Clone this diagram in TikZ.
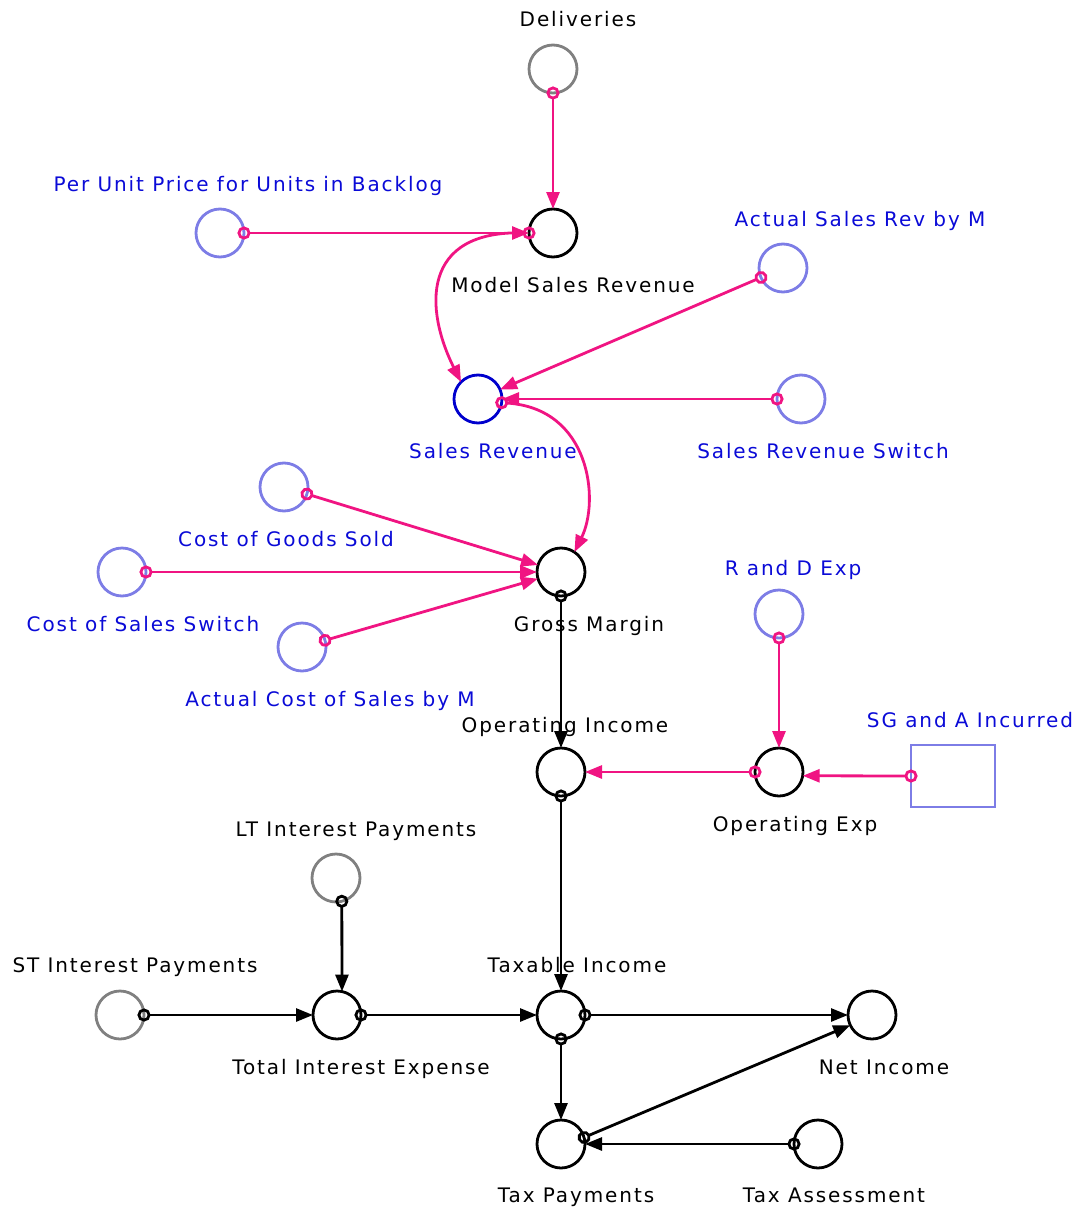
\documentclass[tikz,border=0pt]{standalone}
\usepackage{fontspec}
\setmainfont{DejaVu Sans}[LetterSpace=9.5]
\usetikzlibrary{arrows.meta}
\definecolor{pinkc}{RGB}{240,20,130}
\definecolor{lavc}{RGB}{125,125,230}
\definecolor{grayc}{RGB}{128,128,128}
\definecolor{bluec}{RGB}{0,0,205}
\definecolor{btext}{RGB}{10,10,215}
\begin{document}
\begin{tikzpicture}[x=1pt,y=-1pt,
  var/.style={circle, draw, line width=2.8pt, minimum size=48pt, inner sep=0pt, outer sep=0pt},
  stockbox/.style={rectangle, draw=lavc, line width=2.8pt, minimum width=84pt, minimum height=62pt, inner sep=0pt, outer sep=0pt},
  lab/.style={anchor=base, inner sep=0pt, font=\fontsize{20}{22}\selectfont},
  blab/.style={lab, text=btext},
  link/.style={line width=2.8pt, {Circle[open,length=13pt,width=13pt]}-{Triangle[length=17pt,width=13pt]}, shorten <=-6.5pt},
  plink/.style={link, draw=pinkc},
  klink/.style={link, draw=black}]
\useasboundingbox (0,0) rectangle (1078,1207);

% variables
\node[var, draw=grayc] (del) at (553,69) {};
\node[var] (msr) at (553,233) {};
\node[var, draw=lavc] (pup) at (220,233) {};
\node[var, draw=lavc] (asr) at (783,268) {};
\node[var, draw=bluec] (sr) at (478,399) {};
\node[var, draw=lavc] (srs) at (801,399) {};
\node[var, draw=lavc] (cogs) at (284,487) {};
\node[var] (gm) at (561,572) {};
\node[var, draw=lavc] (css) at (122,572) {};
\node[var, draw=lavc] (acs) at (302,647) {};
\node[var, draw=lavc] (rd) at (779,614) {};
\node[var] (oi) at (561,772) {};
\node[var] (oe) at (779,772) {};
\node[stockbox] (sga) at (953,776) {};
\node[var, draw=grayc] (lt) at (336,878) {};
\node[var, draw=grayc] (st) at (120,1015) {};
\node[var] (tie) at (337,1015) {};
\node[var] (ti) at (561,1015) {};
\node[var] (ni) at (872,1015) {};
\node[var] (tp) at (561,1144) {};
\node[var] (ta) at (818,1144) {};

% labels
\node[lab] (ldel) at (578,27) {Deliveries};
\node[blab] (lpup) at (248,191) {Per Unit Price for Units in Backlog};
\node[lab] (lmsr) at (573,292) {Model Sales Revenue};
\node[blab] (lasr) at (860,226) {Actual Sales Rev by M};
\node[blab] (lsr) at (493,458) {Sales Revenue};
\node[blab] (lsrs) at (823,458) {Sales Revenue Switch};
\node[blab] (lcogs) at (286,546) {Cost of Goods Sold};
\node[lab] (lgm) at (589,631) {Gross Margin};
\node[blab] (lcss) at (143,631) {Cost of Sales Switch};
\node[blab] (lacs) at (330,706) {Actual Cost of Sales by M};
\node[blab] (lrd) at (793,575) {R and D Exp};
\node[blab] (lsga) at (970,727) {SG and A Incurred};
\node[lab] (loi) at (565,732) {Operating Income};
\node[lab] (loe) at (795,831) {Operating Exp};
\node[lab] (llt) at (356,836) {LT Interest Payments};
\node[lab] (lst) at (135,972) {ST Interest Payments};
\node[lab] (lti) at (577,972) {Taxable Income};
\node[lab] (ltie) at (361,1074) {Total Interest Expense};
\node[lab] (lni) at (884,1074) {Net Income};
\node[lab] (ltp) at (576,1202) {Tax Payments};
\node[lab] (lta) at (834,1202) {Tax Assessment};

% pink connectors
\draw[plink] (del) -- (msr);
\draw[plink] (pup) -- (msr);
\draw[plink] (msr.west) .. controls (420,230) and (425,310) .. (sr.135);
\draw[plink] (asr) -- (sr);
\draw[plink] (srs) -- (sr);
\draw[plink] (sr.-9) .. controls (590,408) and (600,500) .. (gm.56);
\draw[plink] (cogs) -- (gm);
\draw[plink] (css) -- (gm);
\draw[plink] (acs) -- (gm);
\draw[plink] (rd) -- (oe);
\draw[plink] (oe) -- (oi);
\draw[plink] (sga.west) -- (oe.-9.4);

% black connectors
\draw[klink] (gm) -- (oi);
\draw[klink] (oi) -- (ti);
\draw[klink] (lt.-76) -- (tie.78);
\draw[klink] (st) -- (tie);
\draw[klink] (tie) -- (ti);
\draw[klink] (ti) -- (ni);
\draw[klink] (ti) -- (tp);
\draw[klink] (tp.16) -- (ni.205);
\draw[klink] (ta) -- (tp);
\end{tikzpicture}
\end{document}
